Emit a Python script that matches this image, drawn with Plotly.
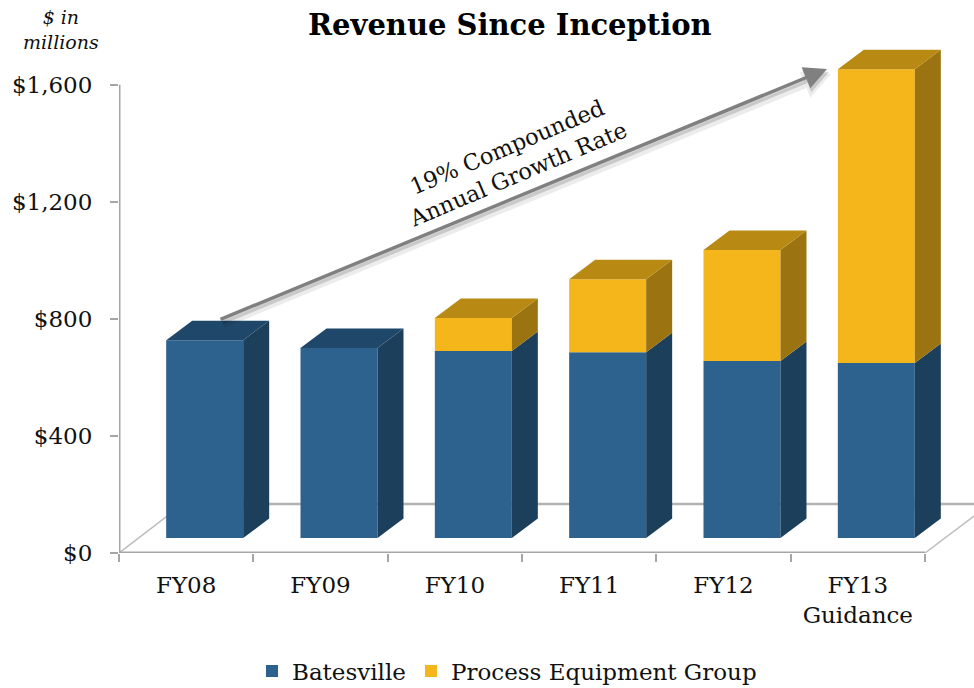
import plotly.graph_objects as go

categories = ["FY08", "FY09", "FY10", "FY11", "FY12", "FY13<br>Guidance"]
batesville = [676, 649, 639, 635, 605, 598]
process_equipment = [0, 0, 113, 249, 379, 1004]
y_ticks = [0, 400, 800, 1200, 1600]
y_tick_labels = ["$0", "$400", "$800", "$1,200", "$1,600"]

FONT = "DejaVu Serif"
BLUE, BLUE_SIDE, BLUE_TOP = "#2d628f", "#1c3f5b", "#1f4769"
GOLD, GOLD_SIDE, GOLD_TOP = "#f5b61b", "#9b7411", "#b88a14"
AXIS = "#a6a6a6"

# pixel geometry of the plot area
W, H = 974, 688
L, R, T, B = 119, 974, 40, 553
PX_X = 134.33   # pixels per category
PX_Y = 0.2927   # pixels per $ million
def to_x(px): return (px - L) / PX_X - 0.5
def to_y(py): return (B - py) / PX_Y
def paper_x(px): return (px - L) / (R - L)
def paper_y(py): return (B - py) / (B - T)

x_pos = list(range(len(categories)))
floor_base = 51
bar_w = 77 / PX_X
bar_off = -20 / PX_X
dx, dy = 26 / PX_X, 19.5 / PX_Y

fig = go.Figure()
base_gold = [floor_base + b for b in batesville]
fig.add_bar(name="Batesville", x=x_pos, y=batesville, base=floor_base, width=bar_w, offset=bar_off,
            marker=dict(color=BLUE, line_width=0), hoverinfo="skip")
fig.add_bar(name="Process Equipment Group", x=x_pos, y=process_equipment, base=base_gold, width=bar_w, offset=bar_off,
            marker=dict(color=GOLD, line_width=0), hoverinfo="skip")

def faces(lows, highs, kind, keep):
    xs, ys = [], []
    for i, (lo, hi) in enumerate(zip(lows, highs)):
        if not keep[i]:
            continue
        x0 = x_pos[i] + bar_off
        x1 = x0 + bar_w
        if kind == "side":
            xs += [x1, x1 + dx, x1 + dx, x1, x1, None]
            ys += [lo, lo + dy, hi + dy, hi, lo, None]
        else:
            xs += [x0, x0 + dx, x1 + dx, x1, x0, None]
            ys += [hi, hi + dy, hi + dy, hi, hi, None]
    return xs, ys

tops = [g + p for g, p in zip(base_gold, process_equipment)]
has_gold = [p > 0 for p in process_equipment]
no_gold = [not h for h in has_gold]
layers = [
    ([floor_base] * 6, base_gold, "side", [True] * 6, BLUE_SIDE),
    (base_gold, tops, "side", has_gold, GOLD_SIDE),
    (base_gold, tops, "top", no_gold, BLUE_TOP),
    (base_gold, tops, "top", has_gold, GOLD_TOP),
]
for lows, highs, kind, keep, col in layers:
    xs, ys = faces(lows, highs, kind, keep)
    fig.add_scatter(x=xs, y=ys, mode="lines", fill="toself", fillcolor=col,
                    line=dict(width=0, color=col), showlegend=False, hoverinfo="skip")

# axis lines
fig.add_scatter(x=[to_x(L)] * 2, y=[0, 1600], mode="lines", line=dict(color=AXIS, width=3),
                showlegend=False, hoverinfo="skip", cliponaxis=False)
fig.add_scatter(x=[to_x(L), to_x(925)], y=[0, 0], mode="lines", line=dict(color=AXIS, width=3),
                showlegend=False, hoverinfo="skip", cliponaxis=False)

# floor lines, behind the bars
shapes = [
    dict(type="line", xref="x", yref="y", x0=to_x(183), y0=to_y(504), x1=to_x(974), y1=to_y(504),
         line=dict(color="#b3b3b3", width=2.5), layer="below"),
    dict(type="line", xref="x", yref="y", x0=to_x(119), y0=0, x1=to_x(183), y1=to_y(504),
         line=dict(color="#bdbdbd", width=1.5), layer="below"),
    dict(type="line", xref="x", yref="y", x0=to_x(925), y0=0, x1=to_x(974), y1=to_y(516),
         line=dict(color="#bdbdbd", width=1.5), layer="below"),
]

def arrow(x0, y0, x1, y1, color, width, head=1.3):
    return dict(x=to_x(x1), y=to_y(y1), ax=to_x(x0), ay=to_y(y0), axref="x", ayref="y",
                xref="x", yref="y", text="", showarrow=True, arrowhead=2, arrowsize=head,
                arrowwidth=width, arrowcolor=color, standoff=0)

annotations = [
    arrow(222, 325, 831, 74, "rgba(0,0,0,0.07)", 7, 0.8),
    arrow(221, 323, 829, 72, "rgba(0,0,0,0.14)", 4, 1.2),
    arrow(219, 320, 827, 69, "#808080", 3.5, 1.3),
    dict(x=to_x(512), y=to_y(160), xref="x", yref="y", xanchor="center", yanchor="middle",
         text="19% Compounded<br>Annual Growth Rate",
         showarrow=False, textangle=-23, align="center", font=dict(family=FONT, size=22.5, color="#111111")),
    dict(x=paper_x(510), y=paper_y(25), xref="paper", yref="paper", xanchor="center", yanchor="middle",
         text="<b>Revenue Since Inception</b>",
         showarrow=False, font=dict(family=FONT, size=29, color="#000000")),
    dict(x=paper_x(61), y=paper_y(29), xref="paper", yref="paper", xanchor="center", yanchor="middle",
         text="<i>$ in<br>millions</i>", showarrow=False,
         align="center", font=dict(family=FONT, size=19, color="#111111")),
]

fig.update_layout(
    width=W, height=H, autosize=False, paper_bgcolor="white", plot_bgcolor="white",
    margin=dict(l=L, r=W - R, t=T, b=H - B, pad=0),
    barmode="overlay", shapes=shapes, annotations=annotations,
    font=dict(family=FONT, size=23, color="#111111"),
    xaxis=dict(range=[to_x(L), to_x(R)], automargin=False, tickmode="array", tickvals=x_pos, ticktext=categories,
               ticks="", showgrid=False, zeroline=False, showline=False, ticklabelstandoff=16,
               minor=dict(tickmode="array", tickvals=[i - 0.5 for i in range(7)], ticks="outside",
                          ticklen=8, tickcolor=AXIS, tickwidth=2, showgrid=False)),
    yaxis=dict(range=[to_y(B), to_y(T)], automargin=False, tickmode="array", tickvals=y_ticks, ticktext=y_tick_labels,
               ticks="outside", ticklen=8, tickcolor=AXIS, tickwidth=2, showgrid=False, zeroline=False,
               showline=False, ticklabelstandoff=13),
    legend=dict(orientation="h", xref="container", yref="container", x=252 / W, xanchor="left", y=1 - 671 / H,
                yanchor="middle", bgcolor="rgba(0,0,0,0)", font=dict(family=FONT, size=23), itemclick=False,
                itemdoubleclick=False),
    showlegend=True,
)
fig.write_html("out.html", config=dict(displayModeBar=False),
               post_script="document.documentElement.style.margin='0';document.body.style.margin='0';")
